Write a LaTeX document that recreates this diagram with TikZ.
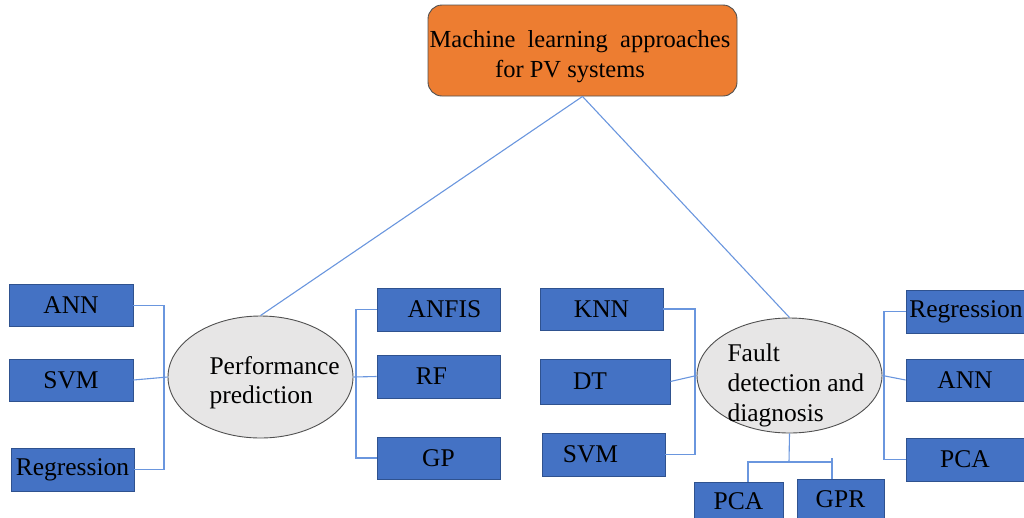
\documentclass[tikz,border=0pt]{standalone}
\usepackage{fontspec}
\setmainfont{Liberation Serif}
\usetikzlibrary{shapes.geometric}
\definecolor{boxblue}{RGB}{68,114,196}
\definecolor{boxedge}{RGB}{47,82,143}
\definecolor{linkblue}{RGB}{106,150,222}
\definecolor{topfill}{RGB}{237,125,49}
\definecolor{ovalfill}{RGB}{231,230,230}
\definecolor{ovaledge}{RGB}{80,80,80}
\tikzset{
  method/.style={draw=boxedge, line width=0.9pt, fill=boxblue, rectangle,
    minimum width=#1, minimum height=42pt, inner sep=0pt, font=\fontsize{25.5}{28}\selectfont},
  method/.default=124pt,
  topic/.style={draw=ovaledge, line width=0.9pt, fill=ovalfill, ellipse, inner sep=0pt},
  link/.style={draw=linkblue, line width=1.1pt},
}
\begin{document}
\begin{tikzpicture}[x=1pt, y=-1pt]
\useasboundingbox (0,0) rectangle (1024,517);

% root
\node[draw=ovaledge, line width=0.9pt, fill=topfill, rounded corners=14pt,
  minimum width=309pt, minimum height=91pt, inner sep=0pt] (root) at (582.5,50.5) {};
\node[align=center, font=\fontsize{24.5}{30}\selectfont] (roott) at (580,57)
  {Machine\ \ learning\ \ approaches\\\hspace*{-20pt}for PV systems};

% the two branches
\node[topic, minimum width=185pt, minimum height=122pt] (perf) at (260.5,377) {};
\node[align=left, anchor=west, font=\fontsize{25.5}{29}\selectfont] (perft) at (206,383) {Performance\\prediction};
\node[topic, minimum width=185pt, minimum height=115pt] (fault) at (789.5,375.5) {};
\node[align=left, anchor=west, font=\fontsize{25.5}{30}\selectfont] (faultt) at (724,385) {Fault\\detection and\\diagnosis};

\draw[link] (root.south) -- (perf.north);
\draw[link] (root.south) -- (fault.north);

% left group
\node[method] (ann1) at (71,305.5) {ANN};
\node[method] (svm1) at (71,380) {SVM};
\node[method=123pt, minimum height=43pt] (reg1) at (72.5,469.5) {Regression};
\coordinate (lb) at (164,380);
\draw[link] (ann1.east) -| (lb |- reg1.east) -- (reg1.east);
\draw[link] (svm1.east) -- (perf.west);

% middle-left group
\node[method=123pt, minimum height=43pt] (anfis) at (438.5,309.5) {\hspace*{12pt}ANFIS};
\node[method=123pt, minimum height=43pt] (rf) at (438.5,376.5) {RF\hspace*{14pt}};
\node[method=123pt] (gp) at (438.5,458) {GP};
\coordinate (mb) at (356,376.5);
\draw[link] (anfis.west) -| (mb |- gp.west) -- (gp.west);
\draw[link] (perf.east) -- (rf.west);

% middle-right group
\node[method=123pt] (knn) at (601.5,309) {KNN};
\node[method=130pt, minimum height=45pt] (dt) at (605,381.5) {DT\hspace*{30pt}};
\node[method=123pt, minimum height=43pt] (svm2) at (603.5,454.5) {SVM\hspace*{26pt}};
\coordinate (rb) at (695,381.5);
\draw[link] (knn.east) -| (rb |- svm2.east) -- (svm2.east);
\draw[link] (dt.east) -- (fault.west);

% right group
\node[method=118pt, minimum height=43pt] (reg2) at (965,311.5) {\hspace*{2pt}Regression};
\node[method=118pt] (ann2) at (965,380) {ANN};
\node[method=118pt, minimum height=43pt] (pca1) at (965,459.5) {PCA};
\coordinate (fb) at (884,379);
\draw[link] (reg2.west) -| (fb |- pca1.west) -- (pca1.west);
\draw[link] (fault.east) -- (ann2.west);

% bottom group
\node[method=89pt, minimum height=38pt] (pca2) at (738.5,501) {PCA};
\node[method=87pt, minimum height=40pt] (gpr) at (840.5,499) {GPR};
\coordinate (bj) at (789,462);
\draw[link] (fault.south) -- (bj);
\draw[link] (pca2.north -| 748,0) -- (748,462) -- (832,462) -- (832,479);
\draw[link] (832,458) -- (832,462);
\end{tikzpicture}
\end{document}
